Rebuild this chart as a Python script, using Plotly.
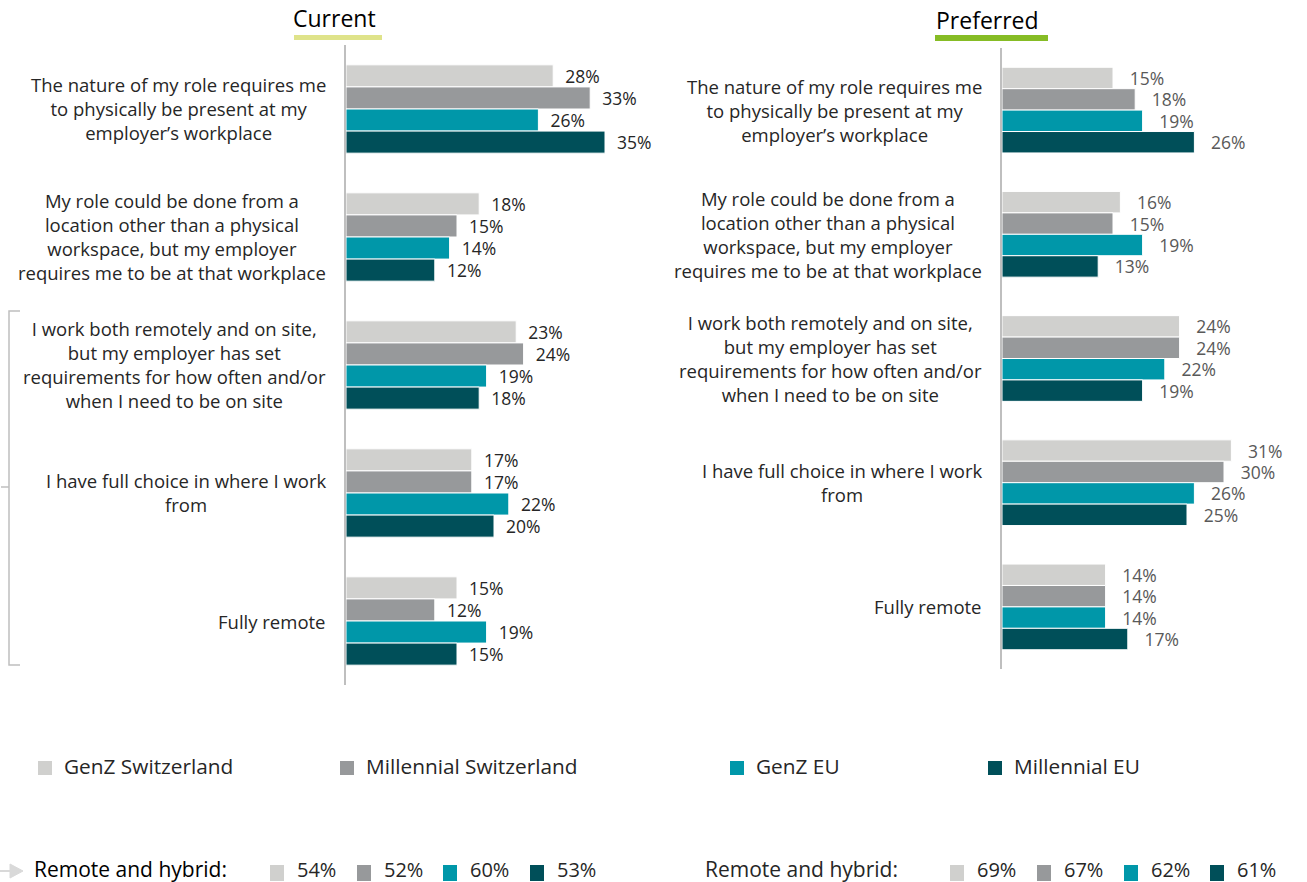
import plotly.graph_objects as go

W, H = 1307, 882

categories = [
    "The nature of my role requires me<br>to physically be present at my<br>employer’s workplace",
    "My role could be done from a<br>location other than a physical<br>workspace, but my employer<br>requires me to be at that workplace",
    "I work both remotely and on site,<br>but my employer has set<br>requirements for how often and/or<br>when I need to be on site",
    "I have full choice in where I work<br>from",
    "Fully remote",
]
series_names = ["GenZ Switzerland", "Millennial Switzerland", "GenZ EU", "Millennial EU"]
series_colors = ["#D0D0CE", "#97999B", "#0097A9", "#004F59"]

current_genz_ch = [28, 18, 23, 17, 15]
current_mill_ch = [33, 15, 24, 17, 12]
current_genz_eu = [26, 14, 19, 22, 19]
current_mill_eu = [35, 12, 18, 20, 15]

preferred_genz_ch = [15, 16, 24, 31, 14]
preferred_mill_ch = [18, 15, 24, 30, 14]
preferred_genz_eu = [19, 19, 22, 26, 14]
preferred_mill_eu = [26, 13, 19, 25, 17]

remote_hybrid_current = [54, 52, 60, 53]
remote_hybrid_preferred = [69, 67, 62, 61]

FONT = "Open Sans"
DARK = "#262626"
GREY_TXT = "#595959"


def px(x):
    return x / W


def py(y):
    return 1 - y / H


ypos = list(range(len(categories)))
fig = go.Figure()

current_series = [current_genz_ch, current_mill_ch, current_genz_eu, current_mill_eu]
preferred_series = [preferred_genz_ch, preferred_mill_ch, preferred_genz_eu, preferred_mill_eu]

for name, color, vals in zip(series_names, series_colors, current_series):
    fig.add_trace(go.Bar(
        x=vals, y=ypos, orientation="h", name=name,
        marker=dict(color=color, line=dict(color="white", width=1)),
        text=vals, texttemplate="  %{x}%", textposition="outside",
        textfont=dict(family=FONT, size=17.5, color=DARK),
        cliponaxis=False, constraintext="none", showlegend=False,
        xaxis="x", yaxis="y",
    ))

for name, color, vals in zip(series_names, series_colors, preferred_series):
    fig.add_trace(go.Bar(
        x=vals, y=ypos, orientation="h", name=name,
        marker=dict(color=color, line=dict(color="white", width=1)),
        text=vals, texttemplate="   %{x}%", textposition="outside",
        textfont=dict(family=FONT, size=17.5, color=GREY_TXT),
        cliponaxis=False, constraintext="none", showlegend=False,
        xaxis="x2", yaxis="y2",
    ))

scale = 7.4
left_x0, right_x0 = 346, 1002
left_range, right_range = 45, 38

axis_common = dict(showgrid=False, zeroline=False, showticklabels=False, ticks="")
fig.update_layout(
    width=W, height=H,
    margin=dict(l=0, r=0, t=0, b=0),
    paper_bgcolor="white", plot_bgcolor="white",
    barmode="group", bargap=0.31, bargroupgap=0,
    showlegend=False,
    font=dict(family=FONT, color=DARK),
    xaxis=dict(domain=[px(left_x0), px(left_x0 + left_range * scale)], range=[0, left_range], **axis_common),
    xaxis2=dict(domain=[px(right_x0), px(right_x0 + right_range * scale)], range=[0, right_range], **axis_common),
    yaxis=dict(domain=[py(685), py(45)], range=[4.5, -0.5], anchor="x",
               showline=True, linecolor="#BFBFBF", linewidth=2, **axis_common),
    yaxis2=dict(domain=[py(669), py(48)], range=[4.5, -0.5], anchor="x2",
                showline=True, linecolor="#BFBFBF", linewidth=2, **axis_common),
)

annotations = []
shapes = []

# Category labels
for i, cat in enumerate(categories):
    annotations.append(dict(text=cat, x=px(328), y=i, xref="paper", yref="y",
                            xanchor="right", yanchor="middle", align="center",
                            showarrow=False, font=dict(family=FONT, size=18.5, color=DARK)))
    annotations.append(dict(text=cat, x=px(984), y=i, xref="paper", yref="y2",
                            xanchor="right", yanchor="middle", align="center",
                            showarrow=False, font=dict(family=FONT, size=18.5, color=DARK)))

# Panel titles with underline
annotations.append(dict(text="Current", x=px(334), y=py(18), xref="paper", yref="paper",
                        xanchor="center", yanchor="middle", showarrow=False,
                        font=dict(family=FONT, size=23, color="#000000")))
annotations.append(dict(text="Preferred", x=px(987), y=py(20), xref="paper", yref="paper",
                        xanchor="center", yanchor="middle", showarrow=False,
                        font=dict(family=FONT, size=23, color="#000000")))
shapes.append(dict(type="rect", xref="paper", yref="paper", x0=px(294), x1=px(382),
                   y0=py(40), y1=py(35), fillcolor="#DFE38A", line=dict(width=0)))
shapes.append(dict(type="rect", xref="paper", yref="paper", x0=px(935), x1=px(1048),
                   y0=py(41), y1=py(35), fillcolor="#86BC25", line=dict(width=0)))

# Bracket on the left
def P(x, y):
    return f"{px(x)},{py(y)}"

shapes.append(dict(type="path", xref="paper", yref="paper",
                   path=f"M {P(20,311)} L {P(9,311)} L {P(9,665)} L {P(20,665)}",
                   line=dict(color="#BFBFBF", width=1.5)))
shapes.append(dict(type="path", xref="paper", yref="paper",
                   path=f"M {P(9,487)} L {P(1,487)}",
                   line=dict(color="#BFBFBF", width=1.5)))

# Legend (manual)
legend_x = [38, 340, 730, 988]
for lx, name, color in zip(legend_x, series_names, series_colors):
    shapes.append(dict(type="rect", xref="paper", yref="paper", x0=px(lx), x1=px(lx + 14),
                       y0=py(775), y1=py(761), fillcolor=color, line=dict(width=0)))
    annotations.append(dict(text=name, x=px(lx + 24), y=py(766), xref="paper", yref="paper",
                            xanchor="left", yanchor="middle", showarrow=False,
                            font=dict(family=FONT, size=20.8, color=DARK)))

# Remote and hybrid row
shapes.append(dict(type="path", xref="paper", yref="paper",
                   path=f"M {P(0,871)} L {P(11,871)}",
                   line=dict(color="#D9D9D9", width=2)))
shapes.append(dict(type="path", xref="paper", yref="paper",
                   path=f"M {P(10,864)} L {P(23,871)} L {P(10,878)} Z",
                   fillcolor="#D9D9D9", line=dict(color="#D9D9D9", width=1)))

annotations.append(dict(text="Remote and hybrid:", x=px(32), y=py(869), xref="paper", yref="paper",
                        xanchor="left", yanchor="middle", showarrow=False,
                        font=dict(family=FONT, size=21, color="#000000")))
annotations.append(dict(text="Remote and hybrid:", x=px(703), y=py(869), xref="paper", yref="paper",
                        xanchor="left", yanchor="middle", showarrow=False,
                        font=dict(family=FONT, size=21, color=DARK)))

row_left = [270, 357, 443, 530]
row_right = [950, 1037, 1124, 1210]
for xs, vals in ((row_left, remote_hybrid_current), (row_right, remote_hybrid_preferred)):
    for sx, v, color in zip(xs, vals, series_colors):
        shapes.append(dict(type="rect", xref="paper", yref="paper", x0=px(sx), x1=px(sx + 14),
                           y0=py(881), y1=py(865), fillcolor=color, line=dict(width=0)))
        annotations.append(dict(text=f"{v}%", x=px(sx + 25), y=py(869), xref="paper", yref="paper",
                                xanchor="left", yanchor="middle", showarrow=False,
                                font=dict(family=FONT, size=20, color=DARK)))

fig.update_layout(annotations=annotations, shapes=shapes)
fig.write_html("out.html")
